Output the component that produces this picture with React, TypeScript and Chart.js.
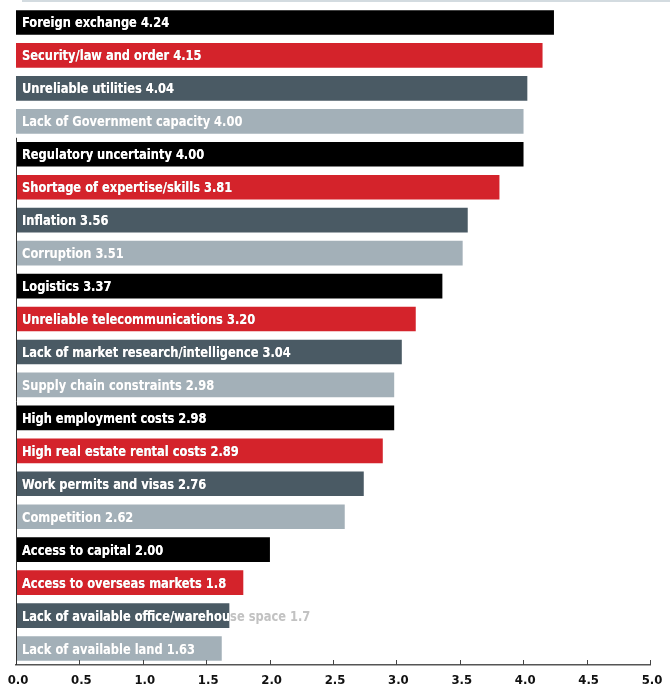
import React, { useEffect, useRef } from "react";
import { Chart, registerables } from "chart.js";

Chart.register(...registerables);

const categories: string[] = [
  "Foreign exchange 4.24",
  "Security/law and order 4.15",
  "Unreliable utilities 4.04",
  "Lack of Government capacity 4.00",
  "Regulatory uncertainty 4.00",
  "Shortage of expertise/skills 3.81",
  "Inflation 3.56",
  "Corruption 3.51",
  "Logistics 3.37",
  "Unreliable telecommunications 3.20",
  "Lack of market research/intelligence 3.04",
  "Supply chain constraints 2.98",
  "High employment costs 2.98",
  "High real estate rental costs 2.89",
  "Work permits and visas 2.76",
  "Competition 2.62",
  "Access to capital 2.00",
  "Access to overseas markets 1.8",
  "Lack of available office/warehouse space 1.7",
  "Lack of available land 1.63",
];

const values: number[] = [
  4.24, 4.15, 4.03, 4.0, 4.0, 3.81, 3.56, 3.52, 3.36, 3.15, 3.04, 2.98, 2.98,
  2.89, 2.74, 2.59, 2.0, 1.79, 1.68, 1.62,
];

const palette: string[] = ["#000000", "#d4232b", "#4a5a64", "#a3b0b8"];

const xTicks: number[] = [0, 0.5, 1, 1.5, 2, 2.5, 3, 3.5, 4, 4.5, 5];

const LABEL_FONT = 'bold 14px "DejaVu Sans Condensed", "Liberation Sans Narrow", sans-serif';
const LABEL_SQUEEZE = 0.91;

const barLabelPlugin = {
  id: "barLabels",
  afterDatasetsDraw(chart: any) {
    const ctx = chart.ctx;
    const meta = chart.getDatasetMeta(0);
    ctx.save();
    ctx.font = LABEL_FONT;
    ctx.textAlign = "left";
    ctx.textBaseline = "alphabetic";
    const drawText = (s: string, tx: number, ty: number, color: string) => {
      ctx.save();
      ctx.translate(tx, ty);
      ctx.scale(LABEL_SQUEEZE, 1);
      ctx.fillStyle = color;
      ctx.fillText(s, 0, 0);
      ctx.restore();
    };
    meta.data.forEach((bar: any, i: number) => {
      const p = bar.getProps(["x", "y", "base", "height"], true);
      const left = Math.min(p.base, p.x);
      const right = Math.max(p.base, p.x);
      const top = p.y - p.height / 2;
      const tx = left + 6;
      const ty = p.y + 5;
      drawText(categories[i], tx, ty, "#c2c2c2");
      ctx.save();
      ctx.beginPath();
      ctx.rect(left, top, right - left, p.height);
      ctx.clip();
      drawText(categories[i], tx, ty, "#ffffff");
      ctx.restore();
    });
    ctx.restore();
  },
};

const decorPlugin = {
  id: "decor",
  afterDraw(chart: any) {
    const ctx = chart.ctx;
    const area = chart.chartArea;
    const xs = chart.scales.x;
    const ys = chart.scales.y;
    ctx.save();
    // top rule
    ctx.fillStyle = "#d3dbe0";
    ctx.fillRect(area.left + 6, 0, chart.width - area.left - 6, 2);
    // tick marks pointing up
    ctx.strokeStyle = "#444444";
    ctx.lineWidth = 1;
    xTicks.forEach((v) => {
      const x = Math.round(xs.getPixelForValue(v)) + 0.5;
      ctx.beginPath();
      ctx.moveTo(x, area.bottom - 5);
      ctx.lineTo(x, area.bottom);
      ctx.stroke();
    });
    // partial left axis line
    const yStart = ys.getPixelForValue(3.5);
    ctx.strokeStyle = "#333333";
    ctx.beginPath();
    ctx.moveTo(area.left + 0.5, yStart);
    ctx.lineTo(area.left + 0.5, area.bottom);
    ctx.stroke();
    ctx.restore();
  },
};

export default function App() {
  const canvasRef = useRef<HTMLCanvasElement | null>(null);

  useEffect(() => {
    if (!canvasRef.current) return;
    const chart = new Chart(canvasRef.current, {
      type: "bar",
      data: {
        labels: categories,
        datasets: [
          {
            data: values,
            backgroundColor: categories.map((_, i) => palette[i % 4]),
            borderWidth: 0,
            barThickness: 24,
          },
        ],
      },
      plugins: [barLabelPlugin, decorPlugin],
      options: {
        indexAxis: "y",
        responsive: false,
        animation: false,
        layout: { padding: { left: 16, right: 20, top: 6, bottom: 0 } },
        plugins: {
          legend: { display: false },
          tooltip: { enabled: false },
          title: { display: false },
        },
        scales: {
          x: {
            min: 0,
            max: 5,
            afterBuildTicks: (scale: any) => {
              scale.ticks = xTicks.map((v) => ({ value: v }));
            },
            afterFit: (scale: any) => {
              scale.height = 21;
              scale.paddingLeft = 0;
              scale.paddingRight = 0;
            },
            grid: { display: false, drawTicks: false },
            border: { display: true, color: "#555555", width: 1.5 },
            ticks: {
              padding: 8,
              labelOffset: 2,
              color: "#111111",
              font: {
                family: '"DejaVu Sans Condensed", "Liberation Sans Narrow", sans-serif',
                size: 13,
                weight: "bold",
              },
              callback: (v: any) => Number(v).toFixed(1),
            },
          },
          y: {
            display: false,
          },
        },
      },
    });
    return () => chart.destroy();
  }, []);

  return (
    <div style={{ position: "absolute", left: 0, top: 0, width: 670, height: 686, background: "#ffffff" }}>
      <canvas ref={canvasRef} width={670} height={686} />
    </div>
  );
}
